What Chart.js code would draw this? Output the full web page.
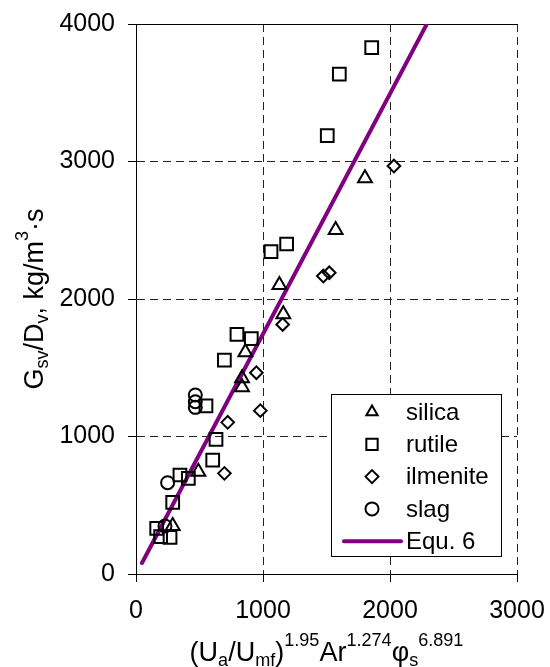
<!DOCTYPE html>
<html>
<head>
<meta charset="utf-8">
<script src="https://cdn.jsdelivr.net/npm/chart.js@4.4.1/dist/chart.umd.min.js"></script>
<style>
  html, body { margin: 0; padding: 0; background: #fff; }
</style>
</head>
<body>
<canvas id="myChart" width="550" height="667"></canvas>
<script>
// values
const silicaX = [289, 491, 835, 835, 861, 1129, 1160, 1572, 1803];
const silicaY = [349, 744, 1358, 1423, 1612, 2102, 1890, 2502, 2878];

const rutileX = [163, 194, 268, 289, 346, 412, 551, 604, 630, 696, 795, 908, 1063, 1186, 1506, 1601, 1856];
const rutileY = [332, 271, 267, 521, 720, 696, 1222, 829, 979, 1556, 1743, 1712, 2344, 2400, 3188, 3636, 3828];

const ilmeniteX = [696, 722, 948, 979, 1155, 1475, 1522, 2031];
const ilmeniteY = [732, 1103, 1464, 1188, 1815, 2167, 2191, 2967];

const slagX = [228, 249, 467, 467, 467];
const slagY = [349, 664, 1212, 1253, 1302];

// Equ. 6 line, end points
const equX = [47, 2290];
const equY = [80, 4000];

const xTicks = [0, 1000, 2000, 3000];
const yTicks = [0, 1000, 2000, 3000, 4000];

const FONT = "'Liberation Sans', Arial, sans-serif";
Chart.defaults.font.family = FONT;
Chart.defaults.color = '#000';

function pts(xs, ys) {
    return xs.map((x, i) => ({x: x, y: ys[i]}));
}

function marker(label, xs, ys, style, r) {
    return {
        label: label,
        data: pts(xs, ys),
        pointStyle: style,
        pointRadius: r,
        pointBorderWidth: 2,
        pointBorderColor: '#000',
        pointBackgroundColor: 'rgba(0,0,0,0)',
        showLine: false
    };
}

const datasets = [
    marker('silica', silicaX, silicaY, 'triangle', 8),
    marker('rutile', rutileX, rutileY, 'rect', 9),
    marker('ilmenite', ilmeniteX, ilmeniteY, 'rectRot', 6.3),
    marker('slag', slagX, slagY, 'circle', 6.5),
    {
        label: 'Equ. 6',
        data: pts(equX, equY),
        showLine: true,
        borderColor: '#800080',
        borderWidth: 4,
        borderCapStyle: 'round',
        pointRadius: 0
    }
];

// text with sub/superscripts: [text, 0 normal | -1 sub | 1 sup]
function richWidth(ctx, parts, size) {
    let w = 0;
    parts.forEach(p => {
        ctx.font = (p[1] ? size * 0.67 : size) + 'px ' + FONT;
        w += ctx.measureText(p[0]).width;
    });
    return w;
}

function drawRich(ctx, parts, x, y, size) {
    ctx.textBaseline = 'alphabetic';
    ctx.textAlign = 'left';
    parts.forEach(p => {
        const s = p[1] ? size * 0.67 : size;
        ctx.font = s + 'px ' + FONT;
        let dy = 0;
        if (p[1] === 1) dy = -size * 0.55;
        if (p[1] === -1) dy = size * 0.17;
        ctx.fillText(p[0], x, y + dy);
        x += ctx.measureText(p[0]).width;
    });
}

const xTitle = [['(U', 0], ['a', -1], ['/U', 0], ['mf', -1], [')', 0], ['1.95', 1],
    ['Ar', 0], ['1.274', 1], ['\u03C6', 0], ['s', -1], ['6.891', 1]];
const yTitle = [['G', 0], ['sv', -1], ['/D', 0], ['v', -1], [', kg/m', 0], ['3', 1], ['\u00B7s', 0]];

const extras = {
    id: 'extras',
    afterDraw(chart) {
        const ctx = chart.ctx;
        const area = chart.chartArea;
        const size = 27;
        ctx.save();
        ctx.fillStyle = '#000';

        // x title
        let w = richWidth(ctx, xTitle, size);
        drawRich(ctx, xTitle, (area.left + area.right) / 2 - w / 2, 661, size);

        // y title
        w = richWidth(ctx, yTitle, size);
        ctx.translate(43, (area.top + area.bottom) / 2);
        ctx.rotate(-Math.PI / 2);
        drawRich(ctx, yTitle, -w / 2, 0, size);
        ctx.restore();

        // legend box
        ctx.save();
        const bx = area.right - 186, by = area.bottom - 180, bw = 170, bh = 162;
        ctx.fillStyle = '#fff';
        ctx.fillRect(bx, by, bw, bh);
        ctx.strokeStyle = '#000';
        ctx.lineWidth = 1;
        ctx.strokeRect(bx + 0.5, by + 0.5, bw, bh);
        ctx.font = '24px ' + FONT;
        ctx.textBaseline = 'middle';
        ctx.textAlign = 'left';
        chart.data.datasets.forEach((ds, i) => {
            const cy = by + 18 + i * 32.3;
            if (ds.showLine) {
                ctx.strokeStyle = ds.borderColor;
                ctx.lineWidth = 4;
                ctx.lineCap = 'round';
                ctx.beginPath();
                ctx.moveTo(bx + 13, cy);
                ctx.lineTo(bx + 70, cy);
                ctx.stroke();
            } else {
                ctx.strokeStyle = '#000';
                ctx.fillStyle = 'rgba(0,0,0,0)';
                ctx.lineWidth = 2;
                Chart.helpers.drawPoint(ctx, {
                    pointStyle: ds.pointStyle,
                    radius: ds.pointStyle === 'rect' ? 8 : 6.5,
                    rotation: 0,
                    borderWidth: 2
                }, bx + 41, cy);
            }
            ctx.fillStyle = '#000';
            ctx.fillText(ds.label, bx + 75, cy + 1);
        });
        ctx.restore();
    }
};

const noEdge = (edges) => (c) => (edges.includes(c.tick && c.tick.value) ? 'rgba(0,0,0,0)' : '#222');
const plain = v => String(v);

new Chart(document.getElementById('myChart'), {
    type: 'scatter',
    data: {datasets: datasets},
    options: {
        responsive: false,
        animation: false,
        layout: {padding: {top: 24, right: 33, left: 0, bottom: 0}},
        plugins: {
            legend: {display: false},
            tooltip: {enabled: false}
        },
        scales: {
            x: {
                type: 'linear',
                min: 0,
                max: 3000,
                afterBuildTicks: s => { s.ticks = xTicks.map(v => ({value: v})); },
                afterFit: s => { s.height = 93; s.paddingLeft = 0; s.paddingRight = 0; },
                ticks: {font: {size: 25}, padding: 14, color: '#000', callback: plain},
                grid: {color: noEdge([0]), tickColor: '#000', tickLength: 8, lineWidth: 1},
                border: {display: true, color: '#000', width: 1, dash: [8, 5]}
            },
            x2: {
                type: 'linear',
                position: 'top',
                min: 0,
                max: 3000,
                ticks: {display: false},
                grid: {display: false},
                afterFit: s => { s.height = 0; s.paddingLeft = 0; s.paddingRight = 0; },
                border: {display: true, color: '#000', width: 1}
            },
            y: {
                type: 'linear',
                min: 0,
                max: 4000,
                afterBuildTicks: s => { s.ticks = yTicks.map(v => ({value: v})); },
                afterFit: s => { s.width = 136; s.paddingTop = 0; s.paddingBottom = 0; },
                ticks: {font: {size: 25}, padding: 13, color: '#000', callback: plain},
                grid: {color: noEdge([0, 4000]), tickColor: '#000', tickLength: 8, lineWidth: 1},
                border: {display: true, color: '#000', width: 1, dash: [8, 5]}
            }
        }
    },
    plugins: [extras]
});
</script>
</body>
</html>
